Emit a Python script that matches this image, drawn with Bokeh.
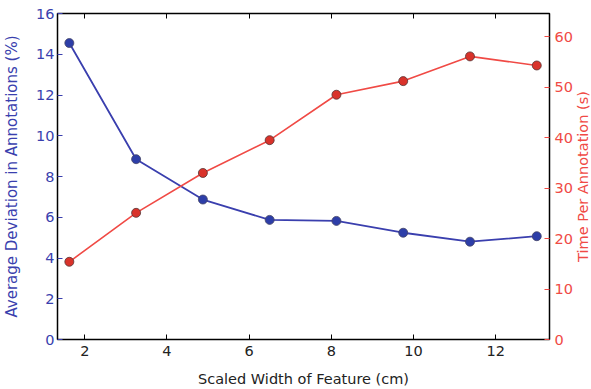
import math
from bokeh.plotting import figure
from bokeh.models import Range1d, LinearAxis, FixedTicker, Label
from bokeh.embed import file_html
from bokeh.resources import INLINE

widths = [1.625, 3.25, 4.875, 6.5, 8.125, 9.75, 11.375, 13.0]
deviation = [14.55, 8.85, 6.87, 5.87, 5.82, 5.24, 4.8, 5.07]
time_per = [15.4, 25.1, 33.0, 39.5, 48.5, 51.2, 56.1, 54.3]

x_ticks = [2, 4, 6, 8, 10, 12]
left_ticks = [0, 2, 4, 6, 8, 10, 12, 14, 16]
right_ticks = [0, 10, 20, 30, 40, 50, 60]

x_min, x_max = 1.337, 13.31
right_max = 64.6

BLUE = "#3a3fae"
BLUE_M = "#2d3ea8"
RED = "#f04a45"
RED_M = "#d9322a"
FONT = "DejaVu Sans"
FS = "14.5px"

p = figure(width=591, height=389, output_backend="svg", toolbar_location=None,
           x_range=Range1d(x_min, x_max), y_range=Range1d(0, 16),
           min_border_left=56, min_border_right=42, min_border_top=13, min_border_bottom=49)
p.extra_y_ranges = {"right": Range1d(0, right_max)}
p.xgrid.visible = False
p.ygrid.visible = False
p.outline_line_color = "black"
p.outline_line_width = 1.5
p.background_fill_color = "white"
p.border_fill_color = "white"

# bottom axis
xa = p.xaxis[0]
xa.ticker = FixedTicker(ticks=x_ticks)
xa.axis_label = "Scaled Width of Feature (cm)"
xa.minor_tick_line_color = None
xa.major_tick_in = 5
xa.major_tick_out = 0
xa.axis_line_color = None
xa.major_label_standoff = 6
xa.axis_label_standoff = 12
xa.major_label_text_font = FONT
xa.major_label_text_font_size = FS
xa.axis_label_text_font = FONT
xa.axis_label_text_font_size = FS
xa.axis_label_text_font_style = "normal"
xa.major_label_text_color = "#222222"
xa.axis_label_text_color = "#222222"

# left axis
ya = p.yaxis[0]
ya.ticker = FixedTicker(ticks=left_ticks)
ya.axis_label = "Average Deviation in Annotations (%)"
ya.minor_tick_line_color = None
ya.major_tick_in = 5
ya.major_tick_out = 0
ya.axis_line_color = None
ya.major_tick_line_color = BLUE
ya.major_label_standoff = 3
ya.axis_label_standoff = 12
ya.major_label_text_font = FONT
ya.major_label_text_font_size = FS
ya.axis_label_text_font = FONT
ya.axis_label_text_font_size = "15px"
ya.axis_label_text_font_style = "normal"
ya.major_label_text_color = BLUE
ya.axis_label_text_color = BLUE

# right axis: ticks and tick labels
ra = LinearAxis(y_range_name="right", ticker=FixedTicker(ticks=right_ticks))
ra.minor_tick_line_color = None
ra.major_tick_in = 5
ra.major_tick_out = 0
ra.axis_line_color = None
ra.major_tick_line_color = RED
ra.major_label_standoff = 5
ra.major_label_text_font = FONT
ra.major_label_text_font_size = FS
ra.major_label_text_color = RED
p.add_layout(ra, "right")

# right axis title, reading bottom-to-top, placed in the right border panel
right_label = Label(x=x_max + 34 / 41.18, y=right_max / 2, y_range_name="right",
                    text="Time Per Annotation (s)", angle=math.pi / 2,
                    text_align="center", text_baseline="middle",
                    text_font=FONT, text_font_size=FS, text_color=RED)
p.add_layout(right_label, "right")

# top ticks
ta = LinearAxis(ticker=FixedTicker(ticks=x_ticks))
ta.minor_tick_line_color = None
ta.major_tick_in = 5
ta.major_tick_out = 0
ta.axis_line_color = None
ta.major_label_text_font_size = "0px"
ta.major_label_standoff = 0
ta.major_label_text_color = None
p.add_layout(ta, "above")

p.line(widths, deviation, line_color=BLUE, line_width=1.8)
p.scatter(widths, deviation, size=9, fill_color=BLUE_M, line_color="#444466", line_width=0.8)
p.line(widths, time_per, line_color=RED, line_width=1.6, y_range_name="right")
p.scatter(widths, time_per, size=9, fill_color=RED_M, line_color="#553333", line_width=0.8,
          y_range_name="right")

open("out.html", "w").write(file_html(p, INLINE))
